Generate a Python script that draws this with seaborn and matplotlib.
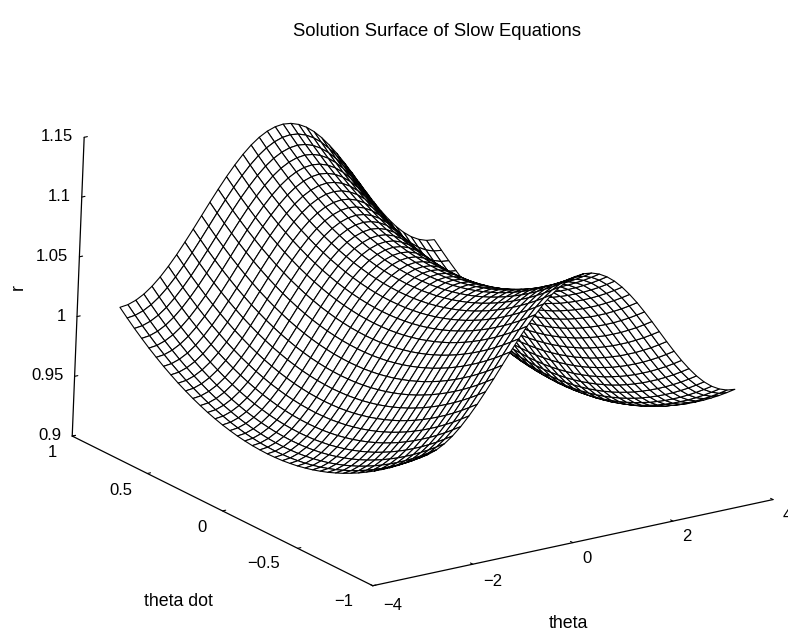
import numpy as np
import matplotlib
matplotlib.use("Agg")
from matplotlib import pyplot as plt
from matplotlib.transforms import Affine2D
from mpl_toolkits.mplot3d import Axes3D
import seaborn as sns

# r: quarter of the surface, rows thetadot -1..0, columns theta -pi..0 (20 steps each)
r_quarter = [
    [1.0000, 1.0008, 1.0031, 1.0068, 1.0119, 1.0183, 1.0258, 1.0341, 1.0432, 1.0527, 1.0625, 1.0723, 1.0818, 1.0909, 1.0992, 1.1067, 1.1131, 1.1182, 1.1219, 1.1242, 1.1250],
    [0.9942, 0.9950, 0.9973, 1.0010, 1.0061, 1.0125, 1.0200, 1.0283, 1.0374, 1.0469, 1.0567, 1.0665, 1.0760, 1.0851, 1.0934, 1.1009, 1.1073, 1.1124, 1.1161, 1.1184, 1.1192],
    [0.9886, 0.9894, 0.9917, 0.9954, 1.0005, 1.0069, 1.0144, 1.0227, 1.0318, 1.0413, 1.0511, 1.0609, 1.0704, 1.0795, 1.0878, 1.0953, 1.1017, 1.1068, 1.1105, 1.1128, 1.1136],
    [0.9834, 0.9842, 0.9865, 0.9902, 0.9953, 1.0017, 1.0092, 1.0175, 1.0266, 1.0361, 1.0459, 1.0557, 1.0652, 1.0743, 1.0826, 1.0901, 1.0965, 1.1016, 1.1053, 1.1076, 1.1084],
    [0.9784, 0.9792, 0.9815, 0.9852, 0.9903, 0.9967, 1.0042, 1.0125, 1.0216, 1.0311, 1.0409, 1.0507, 1.0602, 1.0693, 1.0776, 1.0851, 1.0915, 1.0966, 1.1003, 1.1026, 1.1034],
    [0.9738, 0.9746, 0.9769, 0.9806, 0.9857, 0.9921, 0.9996, 1.0079, 1.0170, 1.0265, 1.0363, 1.0461, 1.0556, 1.0647, 1.0730, 1.0805, 1.0869, 1.0920, 1.0957, 1.0980, 1.0988],
    [0.9694, 0.9702, 0.9725, 0.9762, 0.9813, 0.9877, 0.9952, 1.0035, 1.0126, 1.0221, 1.0319, 1.0417, 1.0512, 1.0603, 1.0686, 1.0761, 1.0825, 1.0876, 1.0913, 1.0936, 1.0944],
    [0.9654, 0.9662, 0.9685, 0.9722, 0.9773, 0.9837, 0.9912, 0.9995, 1.0086, 1.0181, 1.0279, 1.0377, 1.0472, 1.0563, 1.0646, 1.0721, 1.0785, 1.0836, 1.0873, 1.0896, 1.0904],
    [0.9616, 0.9624, 0.9647, 0.9684, 0.9735, 0.9799, 0.9874, 0.9957, 1.0048, 1.0143, 1.0241, 1.0339, 1.0434, 1.0525, 1.0608, 1.0683, 1.0747, 1.0798, 1.0835, 1.0858, 1.0866],
    [0.9582, 0.9590, 0.9613, 0.9650, 0.9701, 0.9765, 0.9840, 0.9923, 1.0014, 1.0109, 1.0207, 1.0305, 1.0400, 1.0491, 1.0574, 1.0649, 1.0713, 1.0764, 1.0801, 1.0824, 1.0832],
    [0.9550, 0.9558, 0.9581, 0.9618, 0.9669, 0.9733, 0.9808, 0.9891, 0.9982, 1.0077, 1.0175, 1.0273, 1.0368, 1.0459, 1.0542, 1.0617, 1.0681, 1.0732, 1.0769, 1.0792, 1.0800],
    [0.9522, 0.9530, 0.9553, 0.9590, 0.9641, 0.9705, 0.9780, 0.9863, 0.9954, 1.0049, 1.0147, 1.0245, 1.0340, 1.0431, 1.0514, 1.0589, 1.0653, 1.0704, 1.0741, 1.0764, 1.0772],
    [0.9496, 0.9504, 0.9527, 0.9564, 0.9615, 0.9679, 0.9754, 0.9837, 0.9928, 1.0023, 1.0121, 1.0219, 1.0314, 1.0405, 1.0488, 1.0563, 1.0627, 1.0678, 1.0715, 1.0738, 1.0746],
    [0.9474, 0.9482, 0.9505, 0.9542, 0.9593, 0.9657, 0.9732, 0.9815, 0.9906, 1.0001, 1.0099, 1.0197, 1.0292, 1.0383, 1.0466, 1.0541, 1.0605, 1.0656, 1.0693, 1.0716, 1.0724],
    [0.9454, 0.9462, 0.9485, 0.9522, 0.9573, 0.9637, 0.9712, 0.9795, 0.9886, 0.9981, 1.0079, 1.0177, 1.0272, 1.0363, 1.0446, 1.0521, 1.0585, 1.0636, 1.0673, 1.0696, 1.0704],
    [0.9438, 0.9446, 0.9469, 0.9506, 0.9557, 0.9621, 0.9696, 0.9779, 0.9870, 0.9965, 1.0063, 1.0161, 1.0256, 1.0347, 1.0430, 1.0505, 1.0569, 1.0620, 1.0657, 1.0680, 1.0688],
    [0.9424, 0.9432, 0.9455, 0.9492, 0.9543, 0.9607, 0.9682, 0.9765, 0.9856, 0.9951, 1.0049, 1.0147, 1.0242, 1.0333, 1.0416, 1.0491, 1.0555, 1.0606, 1.0643, 1.0666, 1.0674],
    [0.9414, 0.9422, 0.9445, 0.9482, 0.9533, 0.9597, 0.9672, 0.9755, 0.9846, 0.9941, 1.0039, 1.0137, 1.0232, 1.0323, 1.0406, 1.0481, 1.0545, 1.0596, 1.0633, 1.0656, 1.0664],
    [0.9406, 0.9414, 0.9437, 0.9474, 0.9525, 0.9589, 0.9664, 0.9747, 0.9838, 0.9933, 1.0031, 1.0129, 1.0224, 1.0315, 1.0398, 1.0473, 1.0537, 1.0588, 1.0625, 1.0648, 1.0656],
    [0.9402, 0.9410, 0.9433, 0.9470, 0.9521, 0.9585, 0.9660, 0.9743, 0.9834, 0.9929, 1.0027, 1.0125, 1.0220, 1.0311, 1.0394, 1.0469, 1.0533, 1.0584, 1.0621, 1.0644, 1.0652],
    [0.9400, 0.9408, 0.9431, 0.9468, 0.9519, 0.9583, 0.9658, 0.9741, 0.9832, 0.9927, 1.0025, 1.0123, 1.0218, 1.0309, 1.0392, 1.0467, 1.0531, 1.0582, 1.0619, 1.0642, 1.0650],
]
theta_ticks = [-4, -2, 0, 2, 4]
thetadot_ticks = [-1, -0.5, 0, 0.5, 1]
r_ticks = [0.9, 0.95, 1, 1.05, 1.1, 1.15]
thetadot_labels = ["\u22121", "\u22120.5", "0", "0.5", "1"]
theta_labels = ["\u22124", "\u22122", "0", "2", "4"]
r_labels = ["0.9", "0.95", "1", "1.05", "1.1", "1.15"]

sns.set_theme(style="white")
plt.rcParams["font.family"] = ["Liberation Sans", "DejaVu Sans"]
plt.rcParams["text.color"] = "black"
plt.rcParams["xtick.color"] = "black"
plt.rcParams["ytick.color"] = "black"

# the picture is symmetric, so mirror the quarter in both directions
half = np.array(r_quarter)
half = np.vstack([half, half[-2::-1]])
r_grid = np.hstack([half, half[:, -2::-1]])
theta = np.linspace(-np.pi, np.pi, 41)
thetadot = np.linspace(-1, 1, 41)
T, D = np.meshgrid(theta, thetadot)

fig = plt.figure(figsize=(7.88, 6.36), dpi=100)
ax = fig.add_axes([0.033, -0.0142, 1.0, 1.0], projection="3d")
ax.set_proj_type("ortho")
ax.view_init(elev=19, azim=-123.7)
ax.set_box_aspect((480, 556, 318), zoom=1.214)

# scanned page leans slightly to the right
shear = np.array([[1, 0.04, 0, 0], [0, 1, 0, 0], [0, 0, 1, 0], [0, 0, 0, 1]])
ax.get_proj = lambda: shear @ Axes3D.get_proj(ax)

surf = ax.plot_surface(T, D, r_grid, rstride=1, cstride=1, color="white",
                       edgecolor="black", linewidth=0.8, shade=False)
surf.set_clip_on(False)

ax.set_xlim(-4, 4, view_margin=0)
ax.set_ylim(-1, 1, view_margin=0)
ax.set_zlim(0.9, 1.15, view_margin=0)
ax.set_xticks(theta_ticks, theta_labels, fontsize=12)
ax.set_yticks(thetadot_ticks, thetadot_labels, fontsize=12)
ax.set_zticks(r_ticks, r_labels, fontsize=12)

ax.grid(False)
for axis in (ax.xaxis, ax.yaxis, ax.zaxis):
    axis.set_pane_color((1, 1, 1, 0))
    axis.pane.set_edgecolor((1, 1, 1, 0))
    axis.line.set_color("black")
    axis.line.set_linewidth(0.9)
    axis.line.set_clip_on(False)
    axis._axinfo["tick"]["inward_factor"] = 0.0
    axis._axinfo["tick"]["outward_factor"] = 0.1
    axis._axinfo["tick"]["linewidth"] = {True: 0.8, False: 0.5}
    axis._axinfo["tick"]["color"] = "black"
ax.tick_params(axis="z", pad=-8)
ax.tick_params(axis="x", pad=-2)
ax.tick_params(axis="y", pad=-4)


# axis3d resets tick label transforms on every draw, so nudge inside get_transform
def nudge(lab, dx, dy):
    base = lab.get_transform
    lab.get_transform = lambda: base() + Affine2D().translate(dx, dy)


for lab in ax.get_zticklabels():
    lab.set_ha("right")
    nudge(lab, -11, 8)
x_nudges = [(13, 1), (13, -1), (7, -3), (7, -3), (7, -3)]
for lab, (dx, dy) in zip(ax.get_xticklabels(), x_nudges):
    nudge(lab, dx, -dy)
y_nudges = [(-22, -2), (-27, -1), (-14, -3), (-20, -3), (-13, -2)]
for lab, (dx, dy) in zip(ax.get_yticklabels(), y_nudges):
    nudge(lab, dx, dy)

fig.text(437 / 788, 1 - 31 / 636, "Solution Surface of Slow Equations", ha="center", va="center", fontsize=13.3)
fig.text(178 / 788, 1 - 602 / 636, "theta dot", ha="center", va="center", fontsize=12.8)
fig.text(568 / 788, 1 - 623 / 636, "theta", ha="center", va="center", fontsize=12.8)
fig.text(18 / 788, 1 - 287 / 636, "r", ha="center", va="center", rotation=90, fontsize=12.8)

fig.savefig("out.png", dpi=100)
